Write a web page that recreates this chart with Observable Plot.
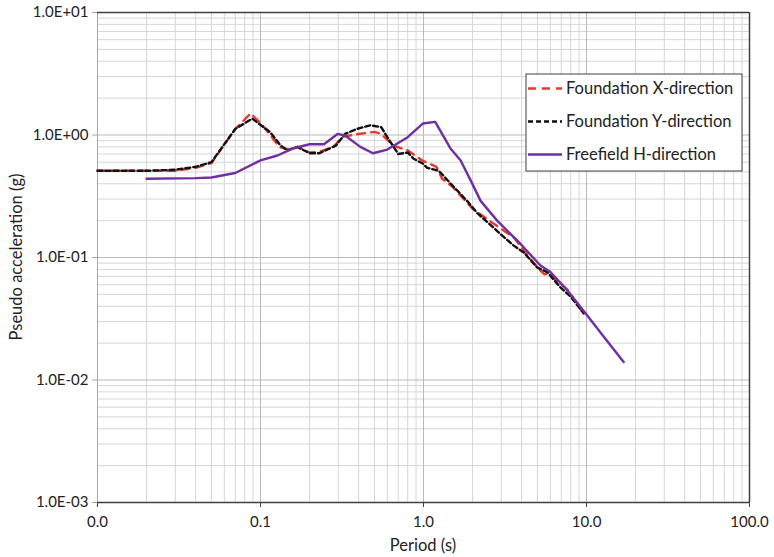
<!DOCTYPE html>
<html>
<head>
<meta charset="utf-8">
<script src="https://cdn.jsdelivr.net/npm/d3@7"></script>
<script src="https://cdn.jsdelivr.net/npm/@observablehq/plot@0.6"></script>
<style>
  html, body { margin: 0; padding: 0; background: #fff; }
  #chart { width: 774px; height: 557px; }
</style>
</head>
<body>
<div id="chart"></div>
<script>
// ---- Data ----
const seriesNames = ["Foundation X-direction", "Foundation Y-direction", "Freefield H-direction"];

const fxPeriod = [0.01, 0.02, 0.03, 0.04, 0.05, 0.07, 0.087, 0.1, 0.115, 0.13, 0.15, 0.17, 0.2, 0.23, 0.28, 0.32, 0.4, 0.5, 0.55, 0.65, 0.8, 0.98, 1.2, 1.3, 1.5, 2.0, 2.6, 3.6, 4.1, 5.0, 5.5, 5.9, 7.6, 9.6];
const fxAccel  = [0.51, 0.51, 0.51, 0.54, 0.59, 1.12, 1.5, 1.25, 1.0, 0.8, 0.76, 0.8, 0.72, 0.73, 0.8, 0.97, 1.02, 1.06, 1.02, 0.82, 0.75, 0.62, 0.55, 0.44, 0.38, 0.25, 0.195, 0.145, 0.115, 0.083, 0.073, 0.074, 0.055, 0.035];

const fyPeriod = [0.01, 0.02, 0.03, 0.04, 0.05, 0.07, 0.089, 0.115, 0.133, 0.146, 0.168, 0.2, 0.23, 0.29, 0.33, 0.39, 0.47, 0.55, 0.6, 0.7, 0.8, 0.87, 1.0, 1.05, 1.24, 1.47, 1.85, 2.14, 2.46, 2.97, 3.58, 4.12, 4.98, 5.74, 6.92, 7.98, 9.63];
const fyAccel  = [0.51, 0.51, 0.52, 0.55, 0.6, 1.12, 1.36, 1.05, 0.82, 0.75, 0.8, 0.71, 0.71, 0.82, 1.02, 1.12, 1.2, 1.16, 0.96, 0.7, 0.72, 0.64, 0.58, 0.54, 0.51, 0.4, 0.29, 0.23, 0.195, 0.155, 0.125, 0.11, 0.083, 0.076, 0.057, 0.048, 0.035];

const ffPeriod = [0.02, 0.04, 0.05, 0.07, 0.1, 0.127, 0.16, 0.2, 0.245, 0.297, 0.33, 0.41, 0.49, 0.6, 0.8, 0.99, 1.18, 1.46, 1.69, 1.94, 2.24, 2.83, 3.94, 5.22, 6.01, 7.62, 9.86, 12.8, 16.9];
const ffAccel  = [0.44, 0.445, 0.45, 0.49, 0.62, 0.68, 0.78, 0.84, 0.84, 1.02, 0.99, 0.8, 0.71, 0.76, 0.96, 1.24, 1.28, 0.78, 0.62, 0.43, 0.29, 0.2, 0.129, 0.086, 0.076, 0.054, 0.035, 0.0224, 0.014];

// ---- Ticks ----
const xTicks = [0.01, 0.1, 1, 10, 100];
const xTickLabels = ["0.0", "0.1", "1.0", "10.0", "100.0"];
const yTicks = [0.001, 0.01, 0.1, 1, 10];
const yTickLabels = ["1.0E-03", "1.0E-02", "1.0E-01", "1.0E+00", "1.0E+01"];
const minorMultipliers = [2, 3, 4, 5, 6, 7, 8, 9];
const xTitle = "Period (s)";
const yTitle = "Pseudo acceleration (g)";

const xMinor = xTicks.slice(0, -1).flatMap(d => minorMultipliers.map(m => d * m));
const yMinor = yTicks.slice(0, -1).flatMap(d => minorMultipliers.map(m => d * m));

const labelFor = (ticks, labels) => d => {
  let best = 0;
  ticks.forEach((t, i) => { if (Math.abs(Math.log10(t) - Math.log10(d)) < Math.abs(Math.log10(ticks[best]) - Math.log10(d))) best = i; });
  return labels[best];
};

const toRows = (P, A) => P.map((p, i) => ({T: p, A: A[i]}));
const fx = toRows(fxPeriod, fxAccel);
const fy = toRows(fyPeriod, fyAccel);
const ff = toRows(ffPeriod, ffAccel);

const colors = ["#e8382c", "#111111", "#7030a0"];
const dashes = ["8,6", "5,3", null];

const FONT = "Lato, 'Open Sans', sans-serif";

const plot = Plot.plot({
  width: 774,
  height: 557,
  marginLeft: 97,
  marginRight: 25,
  marginTop: 12,
  marginBottom: 55,
  style: { fontFamily: FONT, fontSize: "15px", color: "#222", background: "#fff" },
  x: { type: "log", domain: [0.01, 100] },
  y: { type: "log", domain: [0.001, 10] },
  marks: [
    Plot.ruleX(xMinor, { stroke: "#d6d6d6", strokeWidth: 1 }),
    Plot.ruleY(yMinor, { stroke: "#d6d6d6", strokeWidth: 1 }),
    Plot.ruleX(xTicks.slice(1, -1), { stroke: "#bababa", strokeWidth: 1 }),
    Plot.ruleY(yTicks.slice(1, -1), { stroke: "#bababa", strokeWidth: 1 }),
    Plot.ruleX([0.01], { stroke: "#a6a6a6", strokeWidth: 1 }),
    Plot.ruleX([100], { stroke: "#404040", strokeWidth: 1.5 }),
    Plot.ruleY([10], { stroke: "#404040", strokeWidth: 1.5 }),
    Plot.ruleY([0.001], { stroke: "#404040", strokeWidth: 1.5 }),
    Plot.axisX({
      ticks: xTicks, tickFormat: labelFor(xTicks, xTickLabels), tickSize: 5, tickPadding: 9,
      stroke: "#404040", fontSize: 15, fill: "#222", label: null
    }),
    Plot.axisY({
      ticks: yTicks, tickFormat: labelFor(yTicks, yTickLabels), tickSize: 5, tickPadding: 4,
      stroke: "#a6a6a6", fontSize: 15, fill: "#222", label: null
    }),
    Plot.line(fx, { x: "T", y: "A", stroke: colors[0], strokeWidth: 2.4, strokeDasharray: dashes[0] }),
    Plot.line(fy, { x: "T", y: "A", stroke: colors[1], strokeWidth: 2.4, strokeDasharray: dashes[1] }),
    Plot.line(ff, { x: "T", y: "A", stroke: colors[2], strokeWidth: 2.4 })
  ]
});

document.getElementById("chart").appendChild(plot);

const svg = d3.select(plot);

// ---- Axis titles ----
svg.append("text").attr("x", 423).attr("y", 551)
  .attr("text-anchor", "middle").attr("fill", "#222")
  .attr("font-family", FONT).attr("font-size", "16.5px").text(xTitle);
svg.append("text").attr("transform", "translate(22,257) rotate(-90)")
  .attr("text-anchor", "middle").attr("fill", "#222")
  .attr("font-family", FONT).attr("font-size", "16.5px").text(yTitle);

// ---- Legend (inside the plot, top right) ----
const lg = svg.append("g").attr("transform", "translate(526,74)");
lg.append("rect").attr("width", 216).attr("height", 97)
  .attr("fill", "#fff").attr("stroke", "#404040").attr("stroke-width", 1);
seriesNames.forEach((name, i) => {
  const y = 14.5 + i * 33;
  lg.append("line").attr("x1", 2).attr("x2", 36).attr("y1", y).attr("y2", y)
    .attr("stroke", colors[i]).attr("stroke-width", 2.4)
    .attr("stroke-dasharray", dashes[i]);
  lg.append("text").attr("x", 40).attr("y", y).attr("dy", "0.35em")
    .attr("text-anchor", "start")
    .attr("fill", "#222").attr("font-family", FONT).attr("font-size", "16.5px")
    .text(name);
});
</script>
</body>
</html>
